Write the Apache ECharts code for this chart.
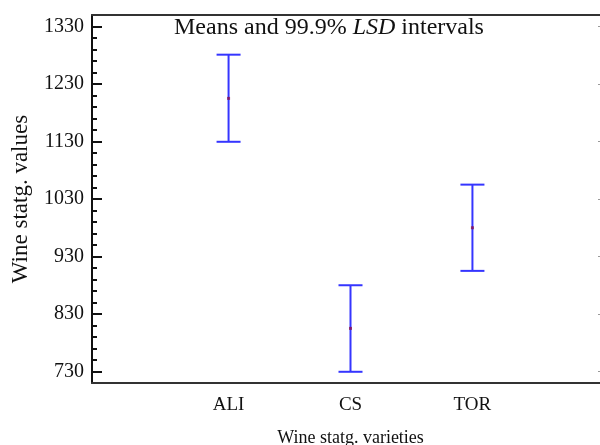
<!DOCTYPE html>
<html>
<head>
<meta charset="utf-8">
<script src="https://cdn.jsdelivr.net/npm/echarts@6/dist/echarts.min.js"></script>
<style>
  html, body { margin: 0; padding: 0; background: #fff; overflow: hidden; }
  #chart { width: 610px; height: 445px; }
</style>
</head>
<body>
<div id="chart"></div>
<script>
// varieties and their means with 99.9% LSD limits
const categories = ['ALI', 'CS', 'TOR']
const means = [1205, 805, 980]
const lower = [1129.5, 729.5, 905]
const upper = [1281, 880, 1055]

// y axis tick values
const majorTicks = [730, 830, 930, 1030, 1130, 1230, 1330]
const minorTicks = []
for (let v = 730; v <= 1340; v += 20) minorTicks.push(v)

const FONT = '"Liberation Serif", "DejaVu Serif", serif'
const axisColor = '#333'
const barColor = '#3535ff'

const chart = echarts.init(document.getElementById('chart'))

const yBase = {
  type: 'value',
  min: 710,
  max: 1350,
  splitLine: {show: false}
}

chart.setOption({
  animation: false,
  title: {
    text: 'Means and 99.9% {i|LSD} intervals',
    left: 174,
    top: 16,
    padding: 0,
    textStyle: {
      fontFamily: FONT,
      fontSize: 24,
      fontWeight: 'normal',
      color: '#111',
      rich: {
        i: {fontFamily: FONT, fontSize: 24, fontStyle: 'italic', color: '#111'}
      }
    }
  },
  grid: {left: 92, right: 1, top: 15, bottom: 62, containLabel: false, outerBoundsMode: 'none'},
  xAxis: [
    {
      type: 'value',
      min: -1.12,
      max: 3.12,
      name: 'Wine statg. varieties',
      nameLocation: 'middle',
      nameGap: 46,
      nameTextStyle: {fontFamily: FONT, fontSize: 18, color: '#111'},
      axisLine: {show: true, onZero: false, lineStyle: {color: axisColor, width: 2}},
      axisTick: {show: false},
      splitLine: {show: false},
      axisLabel: {
        customValues: categories.map((c, i) => i),
        formatter: v => categories[Math.round(v)] || '',
        margin: 13,
        fontFamily: FONT,
        fontSize: 19,
        color: '#111'
      }
    },
    {
      // top frame line
      type: 'value',
      position: 'top',
      min: -1.12,
      max: 3.12,
      axisLine: {show: true, onZero: false, lineStyle: {color: axisColor, width: 2}},
      axisTick: {show: false},
      axisLabel: {show: false},
      splitLine: {show: false}
    }
  ],
  yAxis: [
    {
      ...yBase,
      position: 'left',
      name: 'Wine statg. values',
      nameLocation: 'middle',
      nameGap: 60,
      nameTextStyle: {fontFamily: FONT, fontSize: 23, color: '#111'},
      axisLine: {show: true, onZero: false, lineStyle: {color: '#111', width: 2}},
      axisTick: {
        show: true,
        inside: true,
        length: 10,
        customValues: majorTicks,
        lineStyle: {color: '#111', width: 2}
      },
      axisLabel: {
        customValues: majorTicks,
        formatter: v => String(v),
        margin: 8,
        fontFamily: FONT,
        fontSize: 20,
        color: '#111'
      }
    },
    {
      // minor ticks every 20
      ...yBase,
      position: 'left',
      offset: 0,
      axisLine: {show: false, onZero: false},
      axisTick: {
        show: true,
        inside: true,
        length: 5,
        customValues: minorTicks,
        lineStyle: {color: '#111', width: 2}
      },
      axisLabel: {show: false}
    },
    {
      // right frame line (mostly outside the picture)
      ...yBase,
      position: 'right',
      axisLine: {show: true, onZero: false, lineStyle: {color: axisColor, width: 2}},
      axisTick: {
        show: true,
        inside: true,
        length: 11,
        customValues: majorTicks,
        lineStyle: {color: '#999', width: 1}
      },
      axisLabel: {show: false}
    }
  ],
  series: [
    {
      type: 'custom',
      xAxisIndex: 0,
      yAxisIndex: 0,
      data: categories.map((c, i) => [i, lower[i], upper[i]]),
      renderItem: (params, api) => {
        const pLo = api.coord([api.value(0), api.value(1)])
        const pHi = api.coord([api.value(0), api.value(2)])
        const w = 12
        const style = {stroke: barColor, lineWidth: 2}
        return {
          type: 'group',
          children: [
            {type: 'line', shape: {x1: pLo[0], y1: pLo[1], x2: pHi[0], y2: pHi[1]}, style},
            {type: 'line', shape: {x1: pLo[0] - w, y1: pLo[1], x2: pLo[0] + w, y2: pLo[1]}, style},
            {type: 'line', shape: {x1: pHi[0] - w, y1: pHi[1], x2: pHi[0] + w, y2: pHi[1]}, style}
          ]
        }
      },
      z: 2
    },
    {
      type: 'scatter',
      xAxisIndex: 0,
      yAxisIndex: 0,
      symbol: 'rect',
      symbolSize: 3,
      itemStyle: {color: '#8a1050'},
      data: means.map((m, i) => [i, m]),
      z: 3
    }
  ]
})
</script>
</body>
</html>
